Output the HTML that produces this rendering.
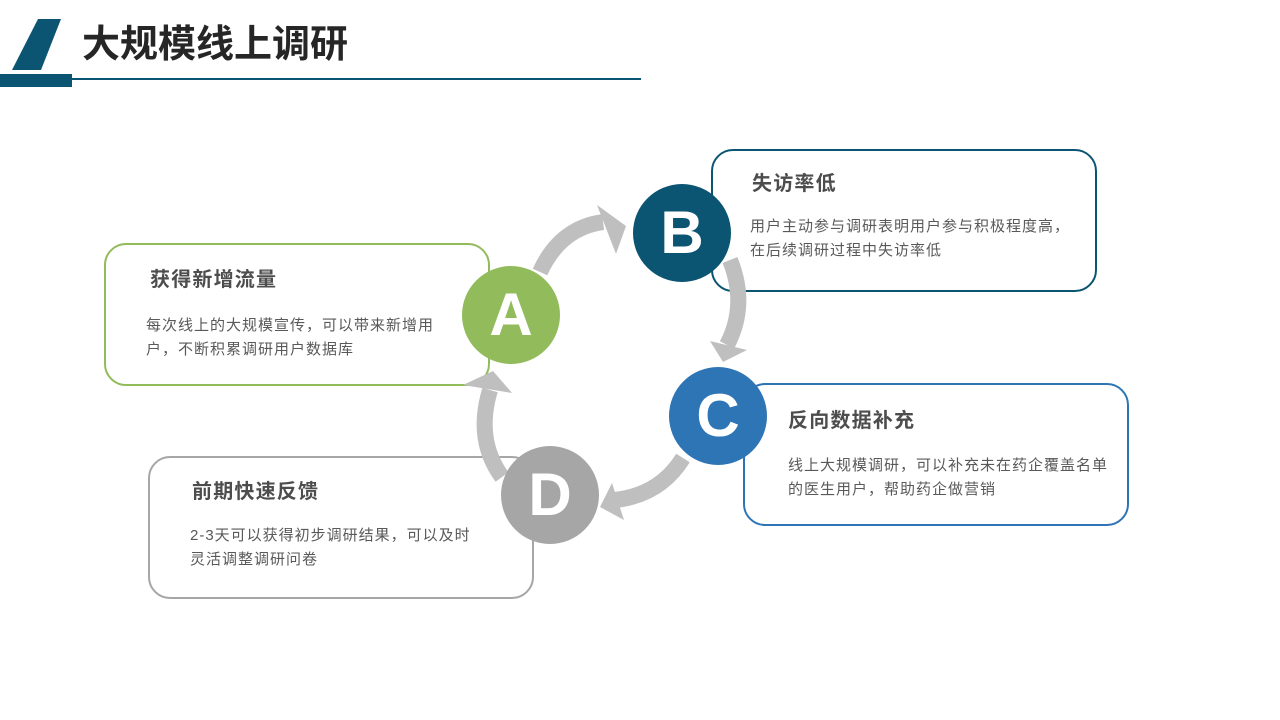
<!DOCTYPE html>
<html><head><meta charset="utf-8"><style>
body{margin:0;width:1280px;height:720px;background:#fff;position:relative;overflow:hidden;font-family:"Liberation Sans","Noto Sans CJK SC",sans-serif}
.box{position:absolute;width:386px;height:143px;border:2px solid;border-radius:22px;background:#fff;box-sizing:border-box}
.t{position:absolute;font-size:20px;letter-spacing:1.2px;font-weight:bold;color:#4d4d4d;line-height:24px;white-space:nowrap}
.b{position:absolute;font-size:15px;letter-spacing:1px;color:#595959;line-height:24px;white-space:nowrap}
.c{position:absolute;width:98px;height:98px;border-radius:50%;color:#fff;font-weight:bold;font-size:60px;line-height:98px;text-align:center;font-family:"Liberation Sans",sans-serif}
</style></head><body>
<svg style="position:absolute;left:0;top:0" width="1280" height="720">
<polygon points="38,19 61,19 41,70 12,70" fill="#0b5573"/>
<rect x="0" y="74" width="72" height="13" fill="#0b5573"/>
<rect x="72" y="78" width="569" height="2" fill="#0b5573"/>
</svg>
<div style="position:absolute;left:82px;top:22px;font-size:38px;font-weight:bold;color:#262626;line-height:46px">大规模线上调研</div>

<div class="box" style="left:104px;top:243px;border-color:#92bb5b"></div>
<div class="box" style="left:711px;top:149px;border-color:#0b5573"></div>
<div class="box" style="left:743px;top:383px;border-color:#2e75b6"></div>
<div class="box" style="left:148px;top:456px;border-color:#a6a6a6"></div>

<svg style="position:absolute;left:0;top:0" width="1280" height="720">
<g fill="none" stroke="#bfbfbf" stroke-width="16">
<path d="M540,272 Q560,228 603,222"/>
<path d="M730,260 Q748,305 727,345"/>
<path d="M683,458 Q660,495 615,500"/>
<path d="M502,477 Q475,440 490,390"/>
</g>
<g fill="#bfbfbf">
<polygon points="597,205 626,226 616,254"/>
<polygon points="710,341 747,350 723,362"/>
<polygon points="612,483 624,520 600,507"/>
<polygon points="463,385 512,393 493,371"/>
</g>
</svg>

<div class="c" style="left:462px;top:266px;background:#92bb5b">A</div>
<div class="c" style="left:633px;top:184px;background:#0b5573">B</div>
<div class="c" style="left:669px;top:367px;background:#2e75b6">C</div>
<div class="c" style="left:501px;top:446px;background:#a6a6a6">D</div>

<div class="t" style="left:150px;top:268px">获得新增流量</div>
<div class="b" style="left:146px;top:314px">每次线上的大规模宣传，可以带来新增用<br>户，不断积累调研用户数据库</div>
<div class="t" style="left:752px;top:172px">失访率低</div>
<div class="b" style="left:750px;top:215px">用户主动参与调研表明用户参与积极程度高，<br>在后续调研过程中失访率低</div>
<div class="t" style="left:788px;top:409px">反向数据补充</div>
<div class="b" style="left:788px;top:454px">线上大规模调研，可以补充未在药企覆盖名单<br>的医生用户，帮助药企做营销</div>
<div class="t" style="left:192px;top:480px">前期快速反馈</div>
<div class="b" style="left:190px;top:524px">2-3天可以获得初步调研结果，可以及时<br>灵活调整调研问卷</div>
</body></html>
